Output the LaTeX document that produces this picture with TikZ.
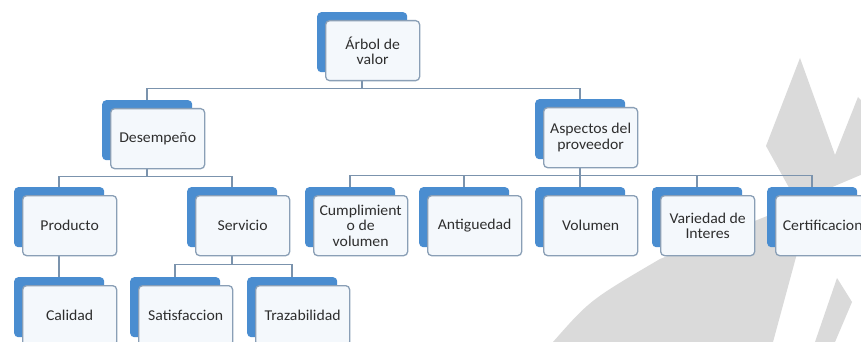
\documentclass[tikz,border=0pt]{standalone}
\usepackage{fontspec}
\setmainfont{Carlito}[FakeStretch=1.05]
\definecolor{backblue}{HTML}{4A8DD0}
\definecolor{frontfill}{HTML}{F4F8FC}
\definecolor{frontline}{HTML}{8A9FB6}
\definecolor{linkcol}{HTML}{7B93AD}
\definecolor{textcol}{HTML}{2E2E2E}
\definecolor{wmgray}{HTML}{DADADA}
\pgfdeclarelayer{wm}
\pgfdeclarelayer{bg}
\pgfsetlayers{wm,bg,main}
\tikzset{
  backbox/.style={fill=backblue, rounded corners=4pt, minimum width=90pt, minimum height=60pt, inner sep=0pt},
  frontbox/.style={draw=frontline, fill=frontfill, line width=1.3pt, rounded corners=4pt,
    minimum width=94pt, minimum height=60pt, inner sep=1pt, align=center, text=textcol,
    font=\fontsize{15}{15.5}\selectfont},
  link/.style={draw=linkcol, line width=1.5pt},
  wmshape/.style={fill=wmgray, draw=none}
}
\newcommand{\treebox}[4]{%
  \node[backbox, anchor=north west] (#1b) at (#2-8,#3-8) {};
  \node[frontbox, anchor=north west] (#1) at (#2,#3) {#4};
}
\begin{document}
\begin{tikzpicture}[x=1pt,y=-1pt]
\useasboundingbox (0,0) rectangle (861,342);
\clip (0,0) rectangle (861,342);
\begin{pgfonlayer}{wm}
  \fill[white] (0,0) rectangle (861,342);
  \path[wmshape] (766,146) -- (800,58) -- (835,155) -- (858,97) -- (870,110) -- (870,171) -- (797,202) -- cycle;
  \path[wmshape] (553,342) .. controls (590,300) .. (660,259) -- (812,198) -- (773,342) -- cycle;
  \path[wmshape] (837,278) -- (852,302) -- (835,342) -- (815,342) -- cycle;
\end{pgfonlayer}

\treebox{root}{325}{20}{Árbol de\\valor}
\treebox{des}{110}{108}{Desempeño}
\treebox{asp}{543}{107}{Aspectos del\\proveedor}
\treebox{prod}{22}{195}{Producto}
\treebox{serv}{195}{195}{Servicio}
\treebox{cump}{313}{195}{Cumplimient\\o de\\volumen}
\treebox{anti}{427}{195}{Antiguedad}
\treebox{vol}{543}{195}{Volumen}
\treebox{vari}{660}{195}{Variedad de\\Interes}
\treebox{cert}{775}{195}{Certificacion}
\treebox{cal}{22}{285}{Calidad}
\treebox{sat}{138}{285}{Satisfaccion}
\treebox{traz}{255}{285}{Trazabilidad}

\begin{pgfonlayer}{bg}
  \draw[link] (rootb.south) -- ++(0,16) -| (desb.north);
  \draw[link] (rootb.south) -- ++(0,16) -| (aspb.north);
  \draw[link] (desb.south) -- ++(0,16) -| (prodb.north);
  \draw[link] (desb.south) -- ++(0,16) -| (servb.north);
  \foreach \c in {cump,anti,vol,vari,cert}
    \draw[link] (aspb.south) -- ++(0,16) -| (\c b.north);
  \draw[link] (prodb.south) -- (calb.north);
  \draw[link] (servb.south) -- ++(0,17) -| (satb.north);
  \draw[link] (servb.south) -- ++(0,17) -| (trazb.north);
\end{pgfonlayer}
\end{tikzpicture}
\end{document}
